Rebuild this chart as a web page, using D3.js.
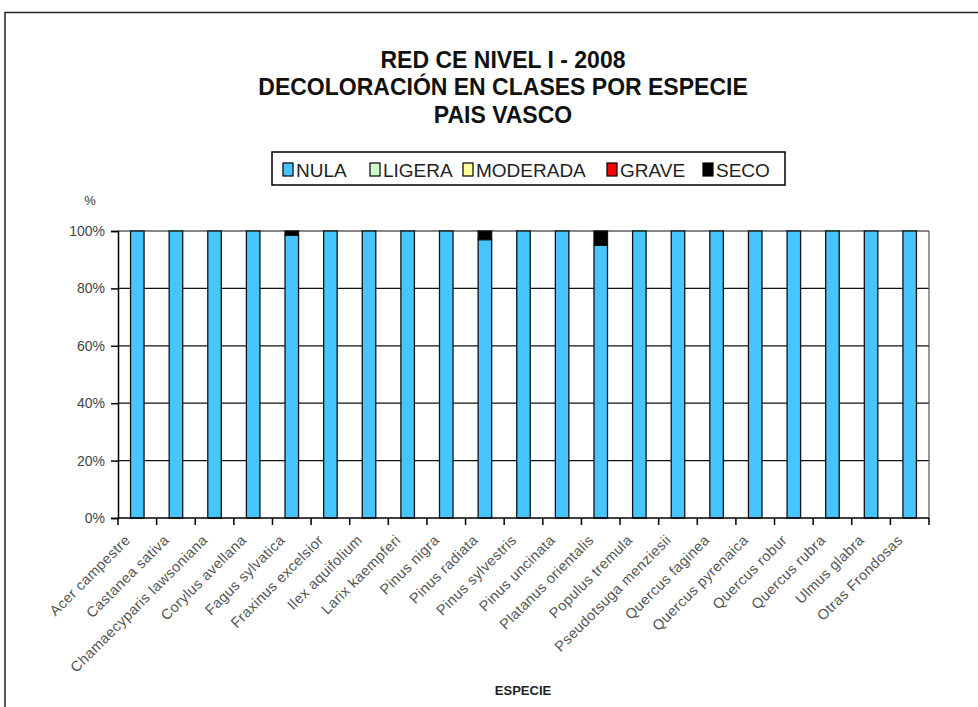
<!DOCTYPE html>
<html>
<head>
<meta charset="utf-8">
<script src="https://cdn.jsdelivr.net/npm/d3@7"></script>
<style>
  body { margin: 0; background: #fff; }
  svg { font-family: "Liberation Sans", Arial, sans-serif; }
</style>
</head>
<body>
<script>
// species on the x axis
const especies = ['Acer campestre', 'Castanea sativa', 'Chamaecyparis lawsoniana', 'Corylus avellana',
  'Fagus sylvatica', 'Fraxinus excelsior', 'Ilex aquifolium', 'Larix kaempferi', 'Pinus nigra',
  'Pinus radiata', 'Pinus sylvestris', 'Pinus uncinata', 'Platanus orientalis', 'Populus tremula',
  'Pseudotsuga menziesii', 'Quercus faginea', 'Quercus pyrenaica', 'Quercus robur', 'Quercus rubra',
  'Ulmus glabra', 'Otras Frondosas']
const clases = ['NULA', 'LIGERA', 'MODERADA', 'GRAVE', 'SECO']
const colores = ['#47c5ff', '#ccffcc', '#ffff99', '#ff0000', '#000000']

// percent of trees per class
const nula     = [100, 100, 100, 100, 98.5, 100, 100, 100, 100, 97, 100, 100, 95, 100, 100, 100, 100, 100, 100, 100, 100]
const ligera   = [0, 0, 0, 0, 0, 0, 0, 0, 0, 0, 0, 0, 0, 0, 0, 0, 0, 0, 0, 0, 0]
const moderada = [0, 0, 0, 0, 0, 0, 0, 0, 0, 0, 0, 0, 0, 0, 0, 0, 0, 0, 0, 0, 0]
const grave    = [0, 0, 0, 0, 0, 0, 0, 0, 0, 0, 0, 0, 0, 0, 0, 0, 0, 0, 0, 0, 0]
const seco     = [0, 0, 0, 0, 1.5, 0, 0, 0, 0, 3, 0, 0, 5, 0, 0, 0, 0, 0, 0, 0, 0]
const yTicks = [0, 20, 40, 60, 80, 100]

const data = especies.map((e, i) => ({
  especie: e, NULA: nula[i], LIGERA: ligera[i], MODERADA: moderada[i], GRAVE: grave[i], SECO: seco[i]
}))

const W = 978, H = 707
const margin = { top: 231, right: 49, bottom: 189, left: 118 }
const width = W - margin.left - margin.right
const height = H - margin.top - margin.bottom

const svg = d3.select('body').append('svg')
  .attr('width', W)
  .attr('height', H)

// outer frame
svg.append('rect')
  .attr('x', 5).attr('y', 12.5)
  .attr('width', W + 10).attr('height', H + 10)
  .attr('fill', 'none').attr('stroke', '#222').attr('stroke-width', 1.5)

// title
const titulo = ['RED CE NIVEL I - 2008', 'DECOLORACIÓN EN CLASES POR ESPECIE', 'PAIS VASCO']
svg.append('text')
  .attr('text-anchor', 'middle')
  .attr('font-weight', 'bold')
  .attr('font-size', 23)
  .attr('fill', '#111')
  .selectAll('tspan')
  .data(titulo)
  .enter().append('tspan')
  .attr('x', 503)
  .attr('y', (d, i) => 68 + i * 27.3)
  .text(d => d)

const g = svg.append('g')
  .attr('transform', `translate(${margin.left},${margin.top})`)

const xScale = d3.scaleBand()
  .domain(especies)
  .range([0, width])
  .paddingInner(0.65)
  .paddingOuter(0.325)

const yScale = d3.scaleLinear()
  .domain([0, 100])
  .range([height, 0])

// gridlines
g.selectAll('.grid')
  .data(yTicks.filter(d => d > 0))
  .enter().append('line')
  .attr('x1', 0).attr('x2', width)
  .attr('y1', d => yScale(d)).attr('y2', d => yScale(d))
  .attr('stroke', '#111').attr('stroke-width', 1.2)

// right border of plot area
g.append('line')
  .attr('x1', width).attr('x2', width)
  .attr('y1', 0).attr('y2', height)
  .attr('stroke', '#555').attr('stroke-width', 1.2)

const stack = d3.stack().keys(clases)(data)

g.selectAll('.serie')
  .data(stack)
  .enter().append('g')
  .attr('fill', (d, i) => colores[i])
  .selectAll('rect')
  .data(d => d.filter(v => v[1] - v[0] > 0))
  .enter().append('rect')
  .attr('x', d => xScale(d.data.especie))
  .attr('width', xScale.bandwidth())
  .attr('y', d => yScale(d[1]))
  .attr('height', d => yScale(d[0]) - yScale(d[1]))
  .attr('stroke', '#111')
  .attr('stroke-width', 1.3)

// y axis
const yAxis = d3.axisLeft(yScale)
  .tickValues(yTicks)
  .tickSize(7)
  .tickPadding(6)
  .tickFormat(d => d + '%')
g.append('g')
  .attr('class', 'y axis')
  .call(yAxis)
  .call(s => s.select('.domain').attr('stroke', '#000').attr('stroke-width', 1.5))
  .call(s => s.selectAll('.tick line').attr('stroke-width', 1.5))
  .call(s => s.selectAll('text').attr('font-size', 14).attr('fill', '#444')
    .attr('font-family', '"Liberation Sans", Arial, sans-serif'))

// x axis: ticks at band boundaries
const xAxisG = g.append('g')
  .attr('class', 'x axis')
  .attr('transform', `translate(0,${height})`)
xAxisG.append('line')
  .attr('x1', 0).attr('x2', width)
  .attr('stroke', '#000').attr('stroke-width', 1.5)
const step = xScale.step()
xAxisG.selectAll('.tk')
  .data(d3.range(especies.length + 1))
  .enter().append('line')
  .attr('x1', i => i * step).attr('x2', i => i * step)
  .attr('y1', 0).attr('y2', 7)
  .attr('stroke', '#000').attr('stroke-width', 1.5)

xAxisG.selectAll('.lbl')
  .data(especies)
  .enter().append('text')
  .attr('transform', d => `translate(${xScale(d) + xScale.bandwidth() / 2 - 6},${23}) rotate(-45)`)
  .attr('text-anchor', 'end')
  .attr('font-size', 14.5)
  .attr('letter-spacing', 0.4)
  .attr('fill', '#555')
  .text(d => d)

// "%" label
svg.append('text')
  .attr('x', 90).attr('y', 205)
  .attr('text-anchor', 'middle')
  .attr('font-size', 13)
  .attr('fill', '#333')
  .text('%')

// axis title
svg.append('text')
  .attr('x', 523).attr('y', 695)
  .attr('text-anchor', 'middle')
  .attr('font-size', 13)
  .attr('font-weight', 'bold')
  .attr('fill', '#222')
  .text('ESPECIE')

// legend
const leg = svg.append('g').attr('transform', 'translate(272,152)')
leg.append('rect')
  .attr('width', 513).attr('height', 33)
  .attr('fill', '#fff').attr('stroke', '#000').attr('stroke-width', 1.5)
const legX = [11, 98, 191, 335, 431]
const items = leg.selectAll('.it')
  .data(clases)
  .enter().append('g')
  .attr('transform', (d, i) => `translate(${legX[i]},11)`)
items.append('rect')
  .attr('width', 10).attr('height', 13)
  .attr('fill', (d, i) => colores[i])
  .attr('stroke', '#000').attr('stroke-width', 1.2)
items.append('text')
  .attr('x', 13).attr('y', 13.5)
  .attr('font-size', 19)
  .attr('fill', '#222')
  .text(d => d)
</script>
</body>
</html>
